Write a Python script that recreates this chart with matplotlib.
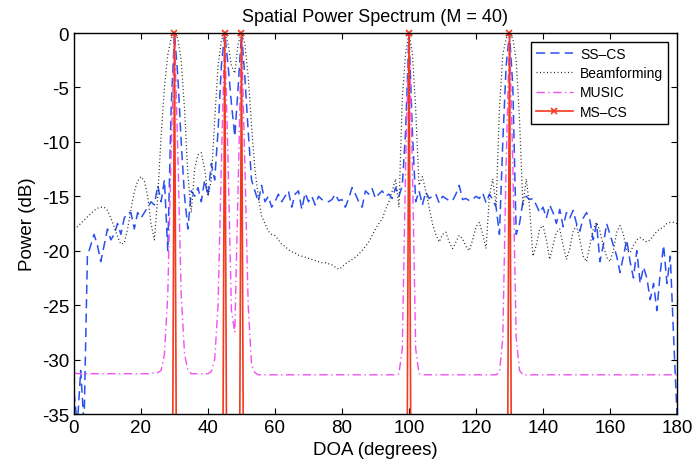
import matplotlib
matplotlib.use("Agg")
import matplotlib.pyplot as plt

plt.rcParams['font.family'] = ['Liberation Sans', 'DejaVu Sans']
plt.rcParams['axes.unicode_minus'] = False

# DOA grid in degrees (1 degree steps)
doa = list(range(0, 181))

# SS-CS spectrum (dB)
sscs = [
    -33, -36, -31, -36, -20.5, -19.5, -18.5, -19.5, -21, -19.5,
    -18, -19, -18.5, -17.5, -18.5, -17, -16.5, -16.5, -18, -16.5,
    -17, -16.5, -16, -15.5, -15.8, -14, -15.5, -13.5, -20, -7,
    0, -4, -10, -15, -18, -14.5, -15, -14.2, -15.5, -13.5,
    -15, -12, -13.5, -9, -3, 0, -3, -6.5, -9.5, -5,
    0, -4, -9, -13.5, -14.5, -15.5, -14, -15.5, -15, -16,
    -15.5, -14.8, -15.5, -15, -14.5, -16, -14.8, -14.5, -16.2, -14.7,
    -15.5, -15, -15.8, -15, -15.3, -15.4, -15.5, -15.3, -14.8, -15.4,
    -15.3, -16, -15.2, -14.2, -14.8, -15.5, -16, -14.5, -14.8, -14.3,
    -15.2, -14.8, -14.5, -15, -14.8, -15.2, -14.2, -15, -14, -9,
    0, -9, -15.5, -14.5, -15.8, -14.6, -15.2, -15, -14.8, -15.6,
    -15, -15.2, -15.4, -15.4, -14.8, -14, -15.3, -15.2, -15.4, -15.3,
    -15, -15.2, -14.7, -15.6, -14.8, -15.3, -16, -18.5, -10, -3,
    0, -5, -18.5, -17.5, -15.5, -15, -15.3, -15.2, -15.8, -16.5,
    -16, -17, -15.8, -16.5, -17.5, -16.2, -17.8, -16.5, -17, -16.3,
    -17.5, -18.2, -17, -16.5, -17.2, -19, -17.5, -21, -19.5, -17.5,
    -18.5, -19.5, -20.5, -22, -20.5, -19, -21, -22.5, -20, -23,
    -21.5, -22.5, -24.5, -23, -25.5, -22, -19.5, -23, -20.5, -28,
    -35,
]

# Beamforming spectrum (dB)
beamforming = [
    -18, -17.8, -17.5, -17.2, -16.9, -16.6, -16.3, -16.1, -16, -16,
    -16.3, -17, -17.8, -18.7, -19.4, -19.3, -18, -16.2, -14.6, -13.6,
    -13.2, -13.6, -15, -17.5, -19, -15, -9.5, -5, -2, -0.5,
    0, -0.5, -2.5, -7, -13, -16.5, -12.5, -11.2, -11, -12.5,
    -15, -13.5, -8, -3, -0.7, 0, -1, -3, -3.7, -1,
    0, -1, -4, -8.5, -12.5, -15, -16.8, -17.5, -18.2, -18.5,
    -18.6, -19, -19.4, -19.6, -19.9, -20.1, -20.2, -20.4, -20.5, -20.6,
    -20.7, -20.8, -20.9, -21, -21.1, -21.1, -21.2, -21.3, -21.5, -21.7,
    -21.5, -21.2, -21, -20.8, -20.6, -20.3, -20, -19.6, -19.2, -18.6,
    -18, -17.5, -17.1, -16.2, -15.5, -14.5, -13.4, -16, -6, -1.8,
    0, -1.8, -7, -14, -13.2, -14.5, -16, -17.5, -18.5, -19.2,
    -18.5, -18.3, -19.2, -19.8, -19.2, -18.6, -18.9, -19.6, -20, -19,
    -17.8, -17.4, -18.5, -19.8, -15, -13.4, -15.9, -7, -2, -0.5,
    0, -0.5, -2.5, -8, -15.9, -13.4, -16, -20.5, -19.5, -18,
    -17.7, -19, -20.8, -19.5, -18.3, -18, -19.5, -20.8, -19.8, -18.2,
    -17.7, -19, -20.5, -21, -19.5, -18, -17.4, -18.2, -19.5, -20.6,
    -21, -20, -18.3, -17.7, -18.5, -20, -20.2, -19.5, -19, -18.8,
    -19, -19.2, -19, -18.6, -18.2, -18, -17.8, -17.5, -17.4, -17.4,
    -17.5,
]

# MUSIC spectrum (dB)
music = [
    -31.2, -31.3, -31.3, -31.3, -31.3, -31.3, -31.3, -31.3, -31.3, -31.3,
    -31.3, -31.3, -31.3, -31.3, -31.3, -31.3, -31.3, -31.3, -31.3, -31.3,
    -31.3, -31.3, -31.3, -31.3, -31.2, -31.2, -31, -29.5, -24, -11,
    0, -11, -24, -29.5, -31, -31.3, -31.3, -31.3, -31.3, -31.3,
    -31.3, -31.1, -30, -25, -12, 0, -12, -25.5, -27.5, -14,
    0, -12, -25, -30.5, -31.2, -31.4, -31.4, -31.4, -31.4, -31.4,
    -31.4, -31.4, -31.4, -31.4, -31.4, -31.4, -31.4, -31.4, -31.4, -31.4,
    -31.4, -31.4, -31.4, -31.4, -31.4, -31.4, -31.4, -31.4, -31.4, -31.4,
    -31.4, -31.4, -31.4, -31.4, -31.4, -31.4, -31.4, -31.4, -31.4, -31.4,
    -31.4, -31.4, -31.4, -31.4, -31.4, -31.4, -31.4, -31.3, -29, -12,
    0, -12, -29, -31.3, -31.4, -31.4, -31.4, -31.4, -31.4, -31.4,
    -31.4, -31.4, -31.4, -31.4, -31.4, -31.4, -31.4, -31.4, -31.4, -31.4,
    -31.4, -31.4, -31.4, -31.4, -31.4, -31.4, -31.4, -31.2, -28, -12,
    0, -12, -28, -31, -31.4, -31.4, -31.4, -31.4, -31.4, -31.4,
    -31.4, -31.4, -31.4, -31.4, -31.4, -31.4, -31.4, -31.4, -31.4, -31.4,
    -31.4, -31.4, -31.4, -31.4, -31.4, -31.4, -31.4, -31.4, -31.4, -31.4,
    -31.4, -31.4, -31.4, -31.4, -31.4, -31.4, -31.4, -31.4, -31.4, -31.4,
    -31.4, -31.4, -31.4, -31.4, -31.4, -31.4, -31.4, -31.4, -31.4, -31.4,
    -31.4,
]

# MS-CS: sparse spectrum, only the source directions are non-zero
mscs_doa = [29, 30, 31, 44, 45, 46, 49, 50, 51, 99, 100, 101, 129, 130, 131]
mscs_db = [-70, 0, -70, -70, 0, -70, -70, 0, -70, -70, 0, -70, -70, 0, -70]

fig = plt.figure(figsize=(6.96, 4.64), dpi=100)
ax = fig.add_axes([0.1063, 0.1056, 0.8664, 0.8211])

red = '#f23a1e'
ax.plot(doa, sscs, color='#2b50f0', lw=1.1, dashes=(6, 3.4), label='SS\u2013CS')
ax.plot(doa, beamforming, color='#222222', lw=0.9, dashes=(0.8, 2.0), label='Beamforming')
ax.plot(doa, music, color='#f050f0', lw=1.0, dashes=(6, 2.5, 1, 2.5), label='MUSIC')
ax.plot(mscs_doa, mscs_db, color=red, lw=1.2, marker='x', ms=5, mew=1.2, label='MS\u2013CS')
# markers at the peaks are drawn unclipped, as MATLAB does
peaks_x = [x for x, y in zip(mscs_doa, mscs_db) if y >= -35]
peaks_y = [y for y in mscs_db if y >= -35]
ax.plot(peaks_x, peaks_y, ls='none', color=red, marker='x', ms=5, mew=1.2, clip_on=False)

ax.set_xlim(0, 180)
ax.set_ylim(-35, 0)
ax.set_xticks(range(0, 181, 20))
ax.set_yticks(range(-35, 1, 5))
ax.tick_params(direction='in', top=True, right=True, length=4.5, labelsize=13.5, width=0.8)
for s in ax.spines.values():
    s.set_linewidth(1.0)

ax.set_xlabel('DOA (degrees)', fontsize=13.5)
ax.set_ylabel('Power (dB)', fontsize=13.5)
ax.set_title('Spatial Power Spectrum (M = 40)', fontsize=13, pad=9)

leg = ax.legend(loc='upper right', fontsize=10, handlelength=2.7, handletextpad=0.5,
                fancybox=False, framealpha=1, edgecolor='black', borderaxespad=0.65,
                borderpad=0.35, labelspacing=0.38)
leg.get_frame().set_linewidth(1.0)

plt.savefig('out.png', dpi=100)
